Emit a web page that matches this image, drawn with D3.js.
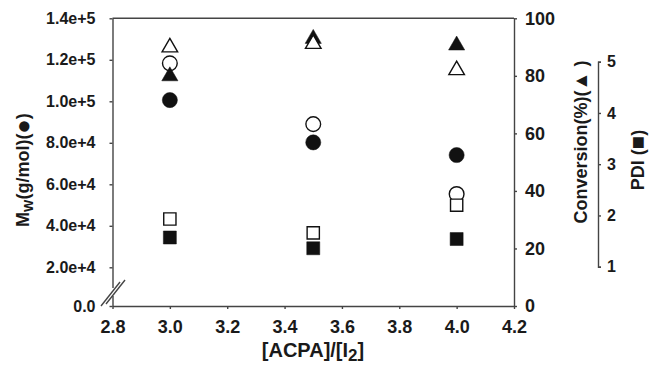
<!DOCTYPE html>
<html><head><meta charset="utf-8">
<script src="https://cdn.jsdelivr.net/npm/d3@7"></script>
<style>
html,body{margin:0;padding:0;background:#fff;}
svg text{font-family:"Liberation Sans",Arial,sans-serif;font-weight:bold;fill:#1a1a1a;}
</style></head>
<body><svg id="c" width="650" height="367"></svg>
<script>
// ---- data ----
const ratios = [3.0, 3.5, 4.0];
const mwFilled = [100600, 80200, 74100];
const mwOpen = [118300, 89000, 55300];
const convFilled = [79.9, 92.9, 90.6];
const convOpen = [89.9, 91.1, 82.0];
const pdiFilled = [1.57, 1.36, 1.54];
const pdiOpen = [1.93, 1.66, 2.20];
const xTicks = [2.8, 3.0, 3.2, 3.4, 3.6, 3.8, 4.0, 4.2];
const mwTicks = [0, 20000, 40000, 60000, 80000, 100000, 120000, 140000];
const convTicks = [0, 20, 40, 60, 80, 100];
const pdiTicks = [1, 2, 3, 4, 5];

const svg = d3.select("#c");
const L = 112.5, R = 514, T = 18.3, B = 306;
const axisColor = "#444";

const x = d3.scaleLinear().domain([2.8, 4.2]).range([L, R]);
const yMw = d3.scaleLinear().domain([0, 20000, 140000]).range([B, 267.3, T]);
const yConv = d3.scaleLinear().domain([0, 100]).range([B, T]);
const yPdi = d3.scaleLinear().domain([1, 5]).range([266.7, 61.7]);

function style(g, size) {
  g.selectAll("path,line").attr("stroke", axisColor).attr("stroke-width", 1.4);
  g.selectAll("text").attr("font-size", size).style("fill", "#1a1a1a");
}

// frame top
svg.append("line").attr("x1", L).attr("x2", R).attr("y1", T).attr("y2", T)
  .attr("stroke", axisColor).attr("stroke-width", 1.4);

// x axis
const gx = svg.append("g").attr("transform", `translate(0,${B})`)
  .call(d3.axisBottom(x).tickValues(xTicks).tickFormat(d3.format(".1f")).tickSize(3).tickSizeOuter(0).tickPadding(11));
style(gx, "18px");

// left axis
const gl = svg.append("g").attr("transform", `translate(${L},0)`)
  .call(d3.axisLeft(yMw).tickValues(mwTicks)
    .tickFormat(d => d === 0 ? "0.0" : d3.format(".1e")(d)).tickSize(3).tickSizeOuter(0).tickPadding(14));
style(gl, "16px");

// right conversion axis
const gr = svg.append("g").attr("transform", `translate(${R},0)`)
  .call(d3.axisRight(yConv).tickValues(convTicks).tickSize(3).tickSizeOuter(0).tickPadding(8));
style(gr, "18px");

// PDI axis
const gp = svg.append("g").attr("transform", `translate(598,0)`)
  .call(d3.axisRight(yPdi).tickValues(pdiTicks).tickFormat(d3.format("d")).tickSize(3).tickSizeOuter(3).tickPadding(6));
style(gp, "16px");

// axis break
svg.append("rect").attr("x", L - 2).attr("y", 288).attr("width", 4).attr("height", 8).attr("fill", "#fff");
[[0, 0], [5, 2]].forEach(([dx, dy]) => {
  svg.append("line").attr("x1", 101 + dx).attr("y1", 306 - dy).attr("x2", 120 + dx).attr("y2", 282 - dy)
    .attr("stroke", axisColor).attr("stroke-width", 1.4);
});

// markers
const sym = (type, size) => d3.symbol().type(type).size(size)();
function plot(vals, yScale, type, size, filled) {
  svg.append("g").selectAll("path").data(ratios).join("path")
    .attr("d", sym(type, size))
    .attr("transform", (d, i) => `translate(${x(d)},${yScale(vals[i])})`)
    .attr("fill", filled ? "#111" : "#fff")
    .attr("stroke", "#111").attr("stroke-width", filled ? 0.5 : 1.4);
}
plot(mwOpen, yMw, d3.symbolCircle, 170, false);
plot(mwFilled, yMw, d3.symbolCircle, 180, true);
plot(convFilled, yConv, d3.symbolTriangle, 113, true);
plot(convOpen, yConv, d3.symbolTriangle, 105, false);
plot(pdiFilled, yPdi, d3.symbolSquare, 169, true);
plot(pdiOpen, yPdi, d3.symbolSquare, 150, false);

// titles
const tl = svg.append("text").attr("transform", "translate(29,170) rotate(-90)")
  .attr("text-anchor", "middle").attr("font-size", "18px");
tl.append("tspan").text("M");
tl.append("tspan").attr("font-size", "13px").attr("dy", 4).text("W");
tl.append("tspan").attr("dy", -4).text("(g/mol)(");
tl.append("tspan").attr("font-size", "24px").attr("dy", 2).text("●");
tl.append("tspan").attr("dy", -2).text(")");

const tc = svg.append("text").attr("transform", "translate(587,142) rotate(-90)")
  .attr("text-anchor", "middle").attr("font-size", "18px");
tc.append("tspan").text("Conversion(%)(");
tc.append("tspan").attr("font-size", "19px").attr("dy", 0).text("▲");
tc.append("tspan").text(" )");

const tp = svg.append("text").attr("transform", "translate(644,160) rotate(-90)")
  .attr("text-anchor", "middle").attr("font-size", "18px");
tp.append("tspan").text("PDI (");
tp.append("tspan").attr("font-size", "22px").attr("dy", 1).text("■");
tp.append("tspan").attr("dy", -1).text(")");

const tx = svg.append("text").attr("x", 313).attr("y", 357)
  .attr("text-anchor", "middle").attr("font-size", "20px");
tx.append("tspan").text("[ACPA]/[I");
tx.append("tspan").attr("font-size", "17px").attr("dy", 4).text("2");
tx.append("tspan").attr("dy", -4).text("]");
</script></body></html>
